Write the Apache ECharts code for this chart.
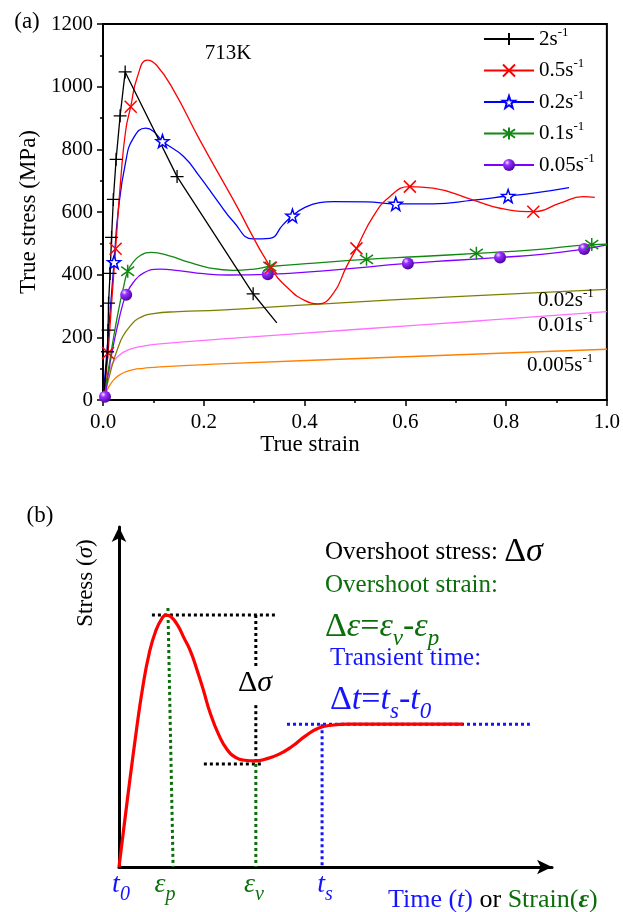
<!DOCTYPE html>
<html><head><meta charset="utf-8">
<script src="https://cdn.jsdelivr.net/npm/echarts@6/dist/echarts.min.js"></script>
<style>html,body{margin:0;padding:0;background:#fff}#c{width:623px;height:912px}</style>
</head><body><div id="c"></div>
<script>
// ---------- Panel (a) data: [true strain, true stress MPa] ----------
const xTicks = [0, 0.2, 0.4, 0.6, 0.8, 1.0];
const yTicks = [0, 200, 400, 600, 800, 1000, 1200];
const legendNames = ['2', '0.5', '0.2', '0.1', '0.05'];

const curve2 = [[0,0],[0.004,60],[0.345,246]];
const markers2 = [[0.009,154],[0.010,223],[0.011,309],[0.014,404],[0.017,519],[0.0205,640],[0.026,768],[0.034,907],[0.044,1047],[0.147,713],[0.298,339]];

const curve05 = [[0,0],[0.005,65],[0.018,330],[0.035,700],[0.045,860],[0.068,1030],[0.088,1085],[0.106,1069],[0.14,989],[0.192,830],[0.259,638],[0.371,351],[0.4,318],[0.427,307],[0.457,340],[0.483,425],[0.536,585],[0.569,649],[0.655,676],[0.735,638],[0.788,612],[0.907,628],[0.953,649],[0.976,647]];
const markers05 = [[0.01,150],[0.025,483],[0.055,936],[0.333,422],[0.503,484],[0.609,681],[0.854,601]];

const curve02 = [[0,0],[0.01,200],[0.03,600],[0.045,760],[0.06,835],[0.085,868],[0.1,858],[0.16,777],[0.192,713],[0.226,638],[0.259,569],[0.298,514],[0.331,516],[0.357,559],[0.40,614],[0.43,630],[0.457,633],[0.523,632],[0.655,626],[0.735,638],[0.854,660],[0.925,678]];
const markers02 = [[0.022,440],[0.118,826],[0.376,588],[0.581,626],[0.804,651]];

const curve01 = [[0,0],[0.01,90],[0.02,190],[0.03,280],[0.04,355],[0.06,440],[0.075,462],[0.096,471],[0.13,461],[0.17,440],[0.21,422],[0.258,414],[0.3,418],[0.42,437],[0.63,458],[0.86,480],[1.0,497]];
const markers01 = [[0.049,411],[0.331,426],[0.523,449],[0.741,468],[0.97,496]];

const curve005 = [[0,0],[0.01,80],[0.02,170],[0.03,245],[0.038,298],[0.06,375],[0.08,405],[0.113,418],[0.15,413],[0.2,403],[0.25,399],[0.45,414],[0.7,446],[0.87,465],[1.0,495]];
const markers005 = [[0.004,10],[0.046,336],[0.327,401],[0.605,436],[0.788,455],[0.955,482]];

const curve002 = [[0,0],[0.01,60],[0.02,120],[0.03,168],[0.04,205],[0.055,238],[0.07,260],[0.1,276],[0.15,282],[0.232,287],[0.43,306],[0.7,330],[1.0,353]];
const curve001 = [[0,0],[0.005,50],[0.01,80],[0.015,104],[0.02,120],[0.03,140],[0.05,160],[0.08,172],[0.113,179],[0.232,194],[0.5,225],[0.75,253],[1.0,282]];
const curve0005 = [[0,0],[0.005,20],[0.01,38],[0.02,62],[0.03,77],[0.045,90],[0.06,97],[0.08,101],[0.113,106],[0.232,115],[0.6,138],[1.0,162]];

// ---------- Panel (b) schematic data (arbitrary units 0..10) ----------
const curveB = [[0,0],[0.2,2.05],[0.4,4.0],[0.55,5.3],[0.7,6.3],[0.85,6.95],[1.0,7.33],[1.09,7.41],[1.2,7.36],[1.35,7.12],[1.5,6.74],[1.65,6.35],[1.8,5.8],[1.95,5.2],[2.1,4.55],[2.3,3.9],[2.5,3.45],[2.7,3.22],[2.9,3.14],[3.14,3.12],[3.4,3.18],[3.7,3.32],[4.0,3.55],[4.3,3.85],[4.6,4.08],[4.9,4.17],[5.3,4.2],[6.0,4.2],[7.94,4.2]];
const peakH = [[0.76,7.41],[3.67,7.41]];
const epsP = [[1.13,7.62],[1.25,0]];
const sigTop = [[3.16,7.41],[3.16,5.91]];
const sigBot = [[3.16,4.76],[3.16,3.03]];
const valleyH = [[1.96,3.03],[3.33,3.03]];
const epsV = [[3.16,3.03],[3.16,0]];
const steadyH = [[3.88,4.2],[9.49,4.2]];
const tS = [[4.69,4.2],[4.69,0]];

// ---------- build ----------
const FONT = "'Liberation Serif','Times New Roman',serif";
const GREEN = '#0b6e0b', BLUE = '#1414ff';

function build(curve, markers) {
  const pts = curve.map(p => ({value: p, symbol: 'none'})).concat(markers.map(p => ({value: p})));
  pts.sort((a, b) => a.value[0] - b.value[0]);
  return pts;
}
const SYM_PLUS = 'path://M5,0 L5,10 M0,5 L10,5';
const SYM_X = 'path://M0,0 L10,10 M10,0 L0,10';
const SYM_STAR = 'path://M10,0 L12.35,6.76 L19.51,6.91 L13.8,11.24 L15.88,18.09 L10,14 L4.12,18.09 L6.2,11.24 L0.49,6.91 L7.65,6.76 Z';
const SYM_AST = 'path://M5,0 L5,10 M1.5,1.5 L8.5,8.5 M8.5,1.5 L1.5,8.5';
const sphere = {type: 'radial', x: 0.35, y: 0.3, r: 0.75, colorStops: [{offset: 0, color: '#f2e4ff'}, {offset: 0.3, color: '#9a30ff'}, {offset: 1, color: '#4800a0'}]};

function lineA(name, color, data, symbol, size, itemStyle, smooth) {
  return {type: 'line', name, xAxisIndex: 0, yAxisIndex: 0, data, smooth: smooth,
    symbol, symbolSize: size, showSymbol: true, showAllSymbol: true, silent: true,
    lineStyle: {color, width: 1.3}, itemStyle: itemStyle, emphasis: {disabled: true}};
}
function plainA(color, curve) {
  return {type: 'line', xAxisIndex: 0, yAxisIndex: 0, data: curve, smooth: 0.5,
    symbol: 'none', silent: true, lineStyle: {color, width: 1.3}};
}
function guide(data, color) {
  return {type: 'line', xAxisIndex: 1, yAxisIndex: 1, data, symbol: 'none', silent: true,
    lineStyle: {color, width: 3, type: 'dotted'}};
}

const series = [
  plainA('#ff8000', curve0005),
  plainA('#ff70ff', curve001),
  plainA('#7d7d00', curve002),
  lineA('0.05', '#8000ff', build(curve005, markers005), 'circle', 12, {color: sphere, borderWidth: 0}, 0.5),
  lineA('0.1', '#118811', build(curve01, markers01), SYM_AST, 13, {color: '#118811', borderColor: '#118811', borderWidth: 1.5}, 0.5),
  lineA('0.2', '#0000ff', build(curve02, markers02), SYM_STAR, 13, {color: '#ffffff', borderColor: '#0000ff', borderWidth: 1.5}, 0.5),
  lineA('0.5', '#ff0000', build(curve05, markers05), SYM_X, 12, {color: '#ff0000', borderColor: '#ff0000', borderWidth: 1.5}, 0.5),
  lineA('2', '#000000', build(curve2, markers2), SYM_PLUS, 13, {color: '#000', borderColor: '#000', borderWidth: 1.3}, false),
  guide(steadyH, BLUE), guide(tS, BLUE),
  guide(peakH, '#000'), guide(sigTop, '#000'), guide(sigBot, '#000'), guide(valleyH, '#000'),
  guide(epsP, GREEN), guide(epsV, GREEN),
  {type: 'line', xAxisIndex: 1, yAxisIndex: 1, data: curveB, smooth: 0.5, symbol: 'none', silent: true,
   lineStyle: {color: '#ff0000', width: 3.2}, z: 5}
];

const supRich = {
  n: {fontSize: 21, fontFamily: FONT, fill: '#000', color: '#000', lineHeight: 26},
  sup: {fontSize: 13, fontFamily: FONT, fill: '#000', color: '#000', lineHeight: 13, verticalAlign: 'top'}
};
function T(x, y, text, rich, extra) {
  return Object.assign({type: 'text', x, y, z: 100, silent: true,
    style: {text, rich, align: 'left', verticalAlign: 'middle'}}, extra || {});
}
function R(size, color, italic, lh, va) {
  const o = {fontSize: size, fontFamily: FONT, fill: color, color: color};
  if (italic) o.fontStyle = 'italic';
  if (lh) o.lineHeight = lh;
  if (va) o.verticalAlign = va;
  return o;
}
function C(x, y, text, rich, extra) {
  return Object.assign({type: 'text', x, y, z: 100, silent: true,
    style: {text, rich, align: 'center', verticalAlign: 'middle'}}, extra || {});
}

const graphic = [
  C(27, 22, '{a|(a)}', {a: R(23, '#000')}),
  C(228, 53, '{a|713K}', {a: R(21, '#000')}),
  T(538, 300, '{n|0.02s}{sup|-1}', supRich),
  T(538, 325, '{n|0.01s}{sup|-1}', supRich),
  T(527, 365, '{n|0.005s}{sup|-1}', supRich),
  // panel (b)
  C(40, 516, '{a|(b)}', {a: R(23, '#000')}),
  C(86, 583, '{a|Stress (}{i|σ}{a|)}', {a: R(23, '#000'), i: R(23, '#000', true)}, {rotation: Math.PI / 2}),
  T(325, 552, '{a|Overshoot stress: }{d|Δ}{i|σ}', {a: R(25, '#000'), d: R(34, '#000'), i: R(34, '#000', true)}),
  T(325, 585, '{a|Overshoot strain:}', {a: R(25, GREEN)}),
  T(325, 627, '{d|Δ}{i|ε}{d|=}{i|ε}{s|v}{d|-}{i|ε}{s|p}', {d: R(34, GREEN, false, 46), i: R(34, GREEN, true, 46), s: R(23, GREEN, true, 23, 'bottom')}),
  T(330, 658, '{a|Transient time:}', {a: R(25, BLUE)}),
  T(330, 700, '{d|Δ}{i|t}{d|=}{i|t}{s|s}{d|-}{i|t}{s|0}', {d: R(34, BLUE, false, 46), i: R(34, BLUE, true, 46), s: R(23, BLUE, true, 23, 'bottom')}),
  C(255, 683, '{d|Δ}{i|σ}', {d: R(30, '#000'), i: R(30, '#000', true)}),
  C(121, 885, '{i|t}{s|0}', {i: R(28, BLUE, true, 40), s: R(20, BLUE, true, 20, 'bottom')}),
  C(165, 885, '{i|ε}{s|p}', {i: R(28, GREEN, true, 40), s: R(20, GREEN, true, 20, 'bottom')}),
  C(254, 885, '{i|ε}{s|v}', {i: R(28, GREEN, true, 40), s: R(20, GREEN, true, 20, 'bottom')}),
  C(325, 885, '{i|t}{s|s}', {i: R(28, BLUE, true, 40), s: R(20, BLUE, true, 20, 'bottom')}),
  T(388, 900, '{b|Time (}{bi|t}{b|) }{k|or }{g|Strain(}{gi|ε}{g|)}', {b: R(26, BLUE), bi: R(26, BLUE, true), k: R(26, '#000'), g: R(26, GREEN), gi: Object.assign(R(26, GREEN, true), {fontWeight: 'bold'})})
];

const axisFont = {color: '#000', fontSize: 21, fontFamily: FONT};
const option = {
  animation: false,
  backgroundColor: '#fff',
  grid: [
    {left: 103, top: 24, width: 504, height: 376, show: true, borderColor: '#000', borderWidth: 2, containLabel: false},
    {left: 119, top: 527, width: 433, height: 340, show: false}
  ],
  legend: {
    data: legendNames, orient: 'vertical', left: 483, top: 26, padding: 0,
    itemWidth: 50, itemHeight: 15, itemGap: 8,
    formatter: n => '{n|' + n + 's}{sup|-1}',
    textStyle: {rich: supRich}
  },
  xAxis: [
    {type: 'value', gridIndex: 0, min: xTicks[0], max: xTicks[xTicks.length - 1], interval: xTicks[1] - xTicks[0],
     name: 'True strain', nameLocation: 'middle', nameGap: 28,
     nameTextStyle: {color: '#000', fontSize: 23, fontFamily: FONT, padding: [0, 90, 0, 0]},
     axisLine: {lineStyle: {color: '#000', width: 2}},
     axisTick: {show: true, inside: false, length: 6, lineStyle: {color: '#000', width: 1.5}},
     minorTick: {show: true, splitNumber: 2, length: 3, lineStyle: {color: '#000', width: 1.5}},
     axisLabel: Object.assign({margin: 12, formatter: v => v.toFixed(1)}, axisFont),
     splitLine: {show: false}},
    {type: 'value', gridIndex: 1, min: 0, max: 10,
     axisLine: {show: true, symbol: ['none', 'arrow'], symbolSize: [11, 15], lineStyle: {color: '#000', width: 3}},
     axisTick: {show: false}, axisLabel: {show: false}, splitLine: {show: false}}
  ],
  yAxis: [
    {type: 'value', gridIndex: 0, min: yTicks[0], max: yTicks[yTicks.length - 1], interval: yTicks[1] - yTicks[0],
     name: 'True stress (MPa)', nameLocation: 'middle', nameGap: 42,
     nameTextStyle: {color: '#000', fontSize: 23, fontFamily: FONT},
     axisLine: {lineStyle: {color: '#000', width: 2}},
     axisTick: {show: true, inside: false, length: 6, lineStyle: {color: '#000', width: 1.5}},
     minorTick: {show: true, splitNumber: 2, length: 3, lineStyle: {color: '#000', width: 1.5}},
     axisLabel: Object.assign({margin: 10, formatter: v => String(v)}, axisFont),
     splitLine: {show: false}},
    {type: 'value', gridIndex: 1, min: 0, max: 10,
     axisLine: {show: true, symbol: ['none', 'arrow'], symbolSize: [11, 15], lineStyle: {color: '#000', width: 3}},
     axisTick: {show: false}, axisLabel: {show: false}, splitLine: {show: false}}
  ],
  series,
  graphic
};
const chart = echarts.init(document.getElementById('c'), null, {renderer: 'canvas'});
chart.setOption(option);
</script></body></html>
